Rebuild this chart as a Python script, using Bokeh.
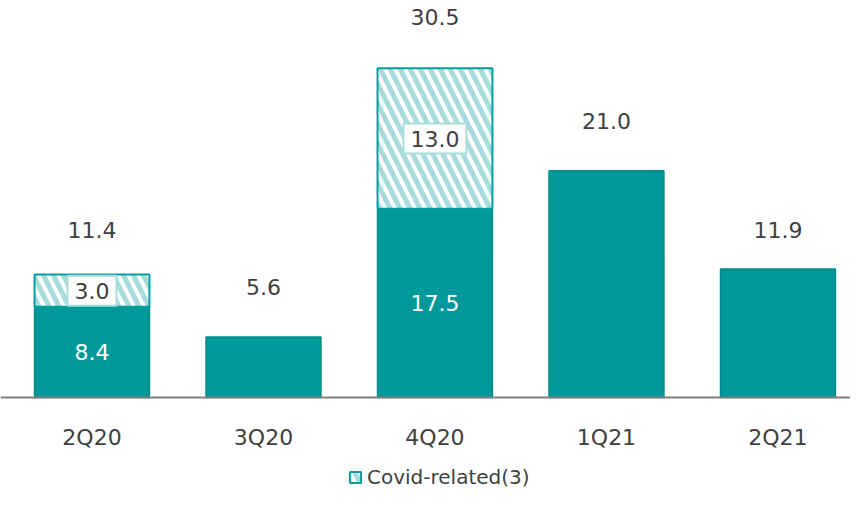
from bokeh.plotting import figure
from bokeh.models import ColumnDataSource, LabelSet, Legend, LegendItem, Range1d, FixedTicker
from bokeh.core.properties import value
from bokeh.embed import file_html
from bokeh.resources import INLINE

# ---- data ----
quarters = ["2Q20", "3Q20", "4Q20", "1Q21", "2Q21"]
base_vals = [8.4, 5.6, 17.5, 21.0, 11.9]
covid_vals = [3.0, 0.0, 13.0, 0.0, 0.0]
total_labels = ["11.4", "5.6", "30.5", "21.0", "11.9"]
base_labels = ["8.4", "", "17.5", "", ""]
covid_labels = ["3.0", "", "13.0", "", ""]

# ---- styles ----
TEAL = "#009999"
TEAL_EDGE = "#008a8a"
HATCH = "#a8dcdc"
BOX_EDGE = "#a8dddd"
TEXT = "#404040"
FONT = "DejaVu Sans"
total_offsets = [44, 50, 51, 50, 39]

xs = [i + 0.5 for i in range(len(quarters))]
tops = [b + c for b, c in zip(base_vals, covid_vals)]

src = ColumnDataSource(dict(
    x=xs, base=base_vals, covid=covid_vals, top=tops,
    total_label=total_labels, base_label=base_labels,
    base_mid=[b / 2 for b in base_vals], off=total_offsets,
))
ci = [i for i, c in enumerate(covid_vals) if c > 0]
csrc = ColumnDataSource(dict(
    x=[xs[i] for i in ci], bottom=[base_vals[i] for i in ci],
    top=[tops[i] for i in ci], mid=[base_vals[i] + covid_vals[i] / 2 for i in ci],
    label=[covid_labels[i] for i in ci],
))

p = figure(width=850, height=489, output_backend="svg", toolbar_location=None,
           x_range=Range1d(-0.0335, 4.923), y_range=Range1d(-8.53, 36.79),
           min_border_left=0, min_border_right=0, min_border_top=0, min_border_bottom=0)
p.outline_line_color = None
p.xgrid.grid_line_color = None
p.ygrid.grid_line_color = None
p.yaxis.visible = False
p.background_fill_color = "white"

p.vbar(x="x", top="base", bottom=0, width=0.67, source=src,
       fill_color=TEAL, line_color=TEAL_EDGE, line_width=1.5)
cov = p.vbar(x="x", top="top", bottom="bottom", width=0.67, source=csrc,
             fill_color="white", hatch_pattern="\\", hatch_color=HATCH,
             hatch_weight=5, hatch_scale=20, line_color="#00a0a0", line_width=2)

# x axis, pinned at zero
ax = p.xaxis[0]
ax.fixed_location = 0
ax.ticker = FixedTicker(ticks=xs)
ax.major_label_overrides = {x: q for x, q in zip(xs, quarters)}
ax.axis_line_color = "#808080"
ax.axis_line_width = 2
ax.major_tick_line_color = None
ax.minor_tick_line_color = None
ax.major_label_standoff = 22
ax.major_label_text_font = FONT
ax.major_label_text_font_size = "22px"
ax.major_label_text_color = TEXT

# labels
p.add_layout(LabelSet(x="x", y="top", text="total_label", source=src, y_offset="off",
                      text_align="center", text_baseline="middle",
                      text_font=value(FONT), text_font_size="22px", text_color=TEXT))
p.add_layout(LabelSet(x="x", y="base_mid", text="base_label", source=src,
                      text_align="center", text_baseline="middle",
                      text_font=value(FONT), text_font_size="22px", text_color="white"))
p.text(x="x", y="mid", text="label", source=csrc,
       text_align="center", text_baseline="middle",
       text_font=value(FONT), text_font_size="22px", text_color=TEXT,
       background_fill_color="white", border_line_color=BOX_EDGE,
       border_line_width=2, padding=7)

legend = Legend(items=[LegendItem(label="Covid-related(3)", renderers=[cov])],
                location=(348, 0), orientation="horizontal",
                label_text_font=FONT, label_text_font_size="20px", label_text_color=TEXT,
                glyph_width=14, glyph_height=14, border_line_color=None,
                background_fill_alpha=0, spacing=0, padding=0, margin=0, label_standoff=5)
p.add_layout(legend)

open("out.html", "w").write(file_html(p, INLINE))
